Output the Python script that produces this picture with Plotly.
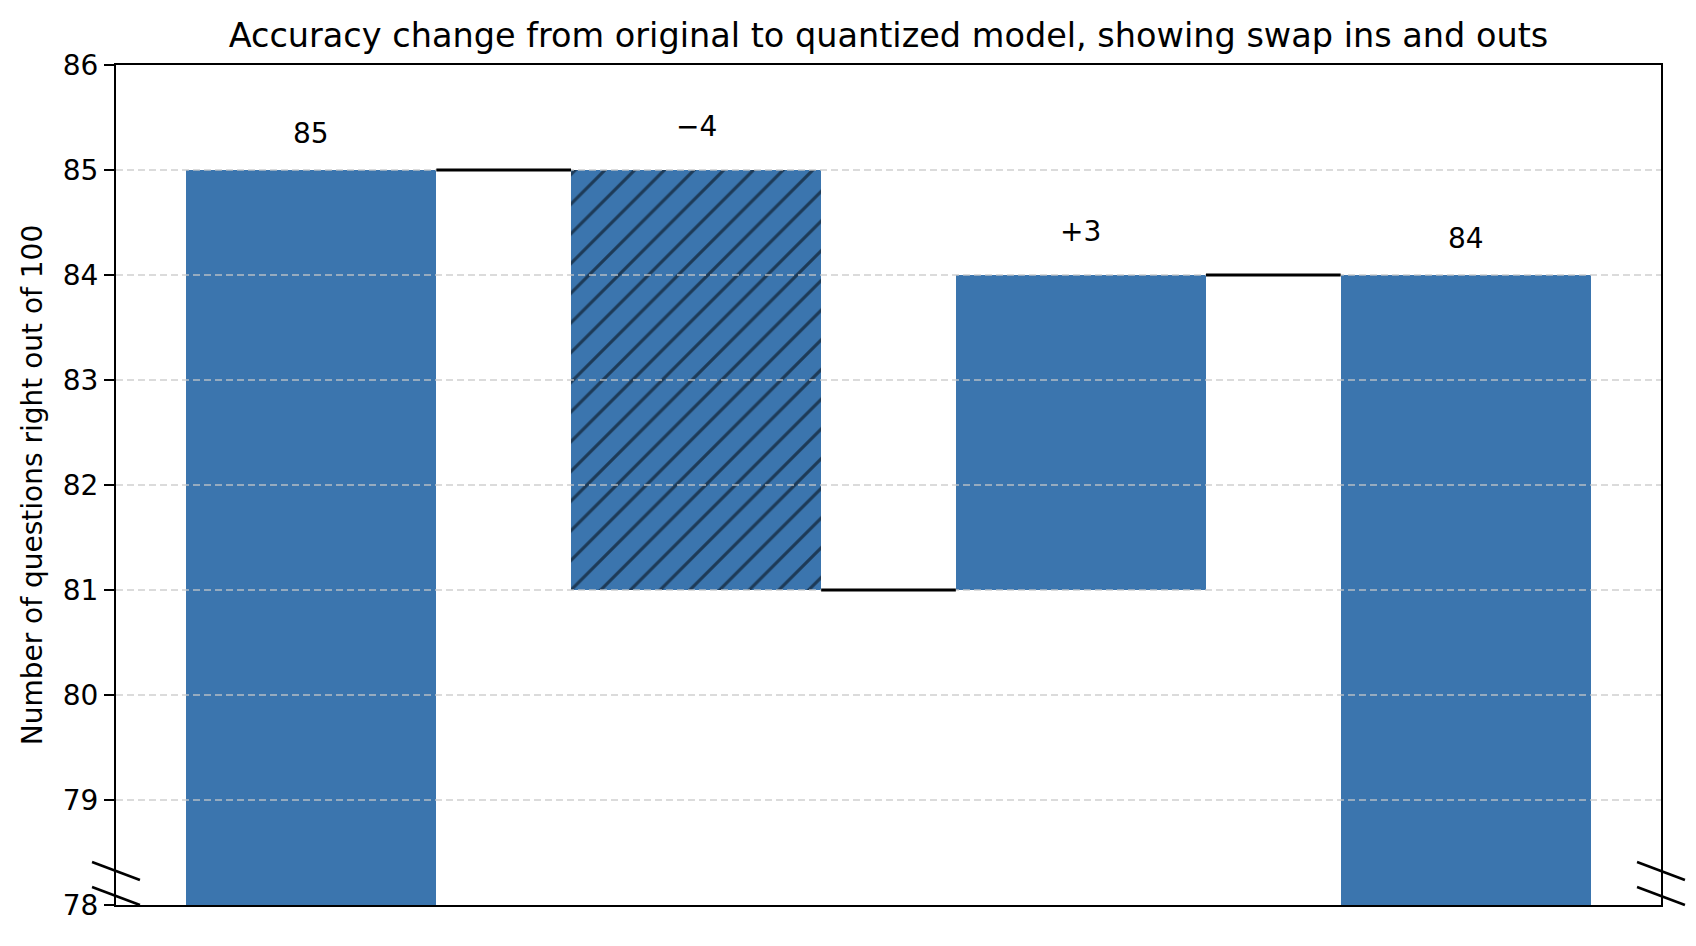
import plotly.graph_objects as go

# waterfall values
positions = [0, 1, 2, 3]
bar_bases = [78, 81, 81, 78]
bar_tops = [85, 85, 84, 84]
bar_labels = ["85", "\u22124", "+3", "84"]
label_offsets = [0.35, 0.41, 0.41, 0.35]
hatches = ["", "/", "", ""]
connector_levels = [85, 81, 84]
y_ticks = [78, 79, 80, 81, 82, 83, 84, 85, 86]

BAR_WIDTH = 0.65
BLUE = "#3b75ae"
FONT = "DejaVu Sans"
W, H = 1680, 930  # page adds an 8px body margin

fig = go.Figure()

fig.add_bar(
    x=positions,
    y=[t - b for t, b in zip(bar_tops, bar_bases)],
    base=bar_bases,
    width=BAR_WIDTH,
    marker=dict(
        color=BLUE,
        line=dict(width=0),
        pattern=dict(shape=hatches, fgcolor="black", bgcolor=BLUE, size=21, solidity=0.15),
    ),
    hoverinfo="skip",
    showlegend=False,
)

# gridlines drawn above the bars, like the original
for t in y_ticks[1:-1]:
    fig.add_shape(type="line", xref="paper", yref="y", x0=0, x1=1, y0=t, y1=t,
                  line=dict(color="rgba(200,200,200,0.65)", width=1.8, dash="7px,4px"),
                  layer="above")

# connector lines between bar edges (on top of the grid)
for i, level in enumerate(connector_levels):
    fig.add_shape(type="line", xref="x", yref="y",
                  x0=positions[i] + BAR_WIDTH / 2, x1=positions[i + 1] - BAR_WIDTH / 2,
                  y0=level, y1=level,
                  line=dict(color="black", width=3), layer="above")

for p, top, lab, off in zip(positions, bar_tops, bar_labels, label_offsets):
    fig.add_annotation(x=p, y=top + off, text=lab, showarrow=False,
                       font=dict(family=FONT, size=28, color="black"),
                       xanchor="center", yanchor="middle")

# axis break marks
for xc in (0, 1):
    for ya, yb in ((0.0512, 0.0298), (0.0214, 0.0)):
        fig.add_shape(type="line", xref="paper", yref="paper",
                      x0=xc - 0.0155, x1=xc + 0.0155, y0=ya, y1=yb,
                      line=dict(color="black", width=2.5), layer="above")

fig.update_layout(
    width=W,
    height=H,
    margin=dict(l=108, r=27, t=57, b=33),
    plot_bgcolor="white",
    paper_bgcolor="white",
    font=dict(family=FONT, size=28, color="black"),
    title=dict(
        text="Accuracy change from original to quantized model, showing swap ins and outs",
        x=0.5, xref="paper", xanchor="center",
        y=1 - 27 / H, yref="container", yanchor="middle",
        font=dict(family=FONT, size=33.5, color="black"),
    ),
    bargap=0,
)

fig.update_xaxes(
    range=[-0.5075, 3.5075],
    showticklabels=False,
    ticks="",
    showgrid=False,
    zeroline=False,
    showline=True,
    linecolor="black",
    linewidth=2,
    mirror=True,
)
fig.update_yaxes(
    range=[78, 86],
    tickvals=y_ticks,
    ticks="outside",
    ticklen=10,
    tickwidth=2,
    tickcolor="black",
    showgrid=False,
    zeroline=False,
    showline=True,
    linecolor="black",
    linewidth=2,
    mirror=True,
    tickfont=dict(family=FONT, size=28),
    title=dict(text="Number of questions right out of 100", standoff=12,
               font=dict(family=FONT, size=28)),
)

fig.write_html("out.html")
